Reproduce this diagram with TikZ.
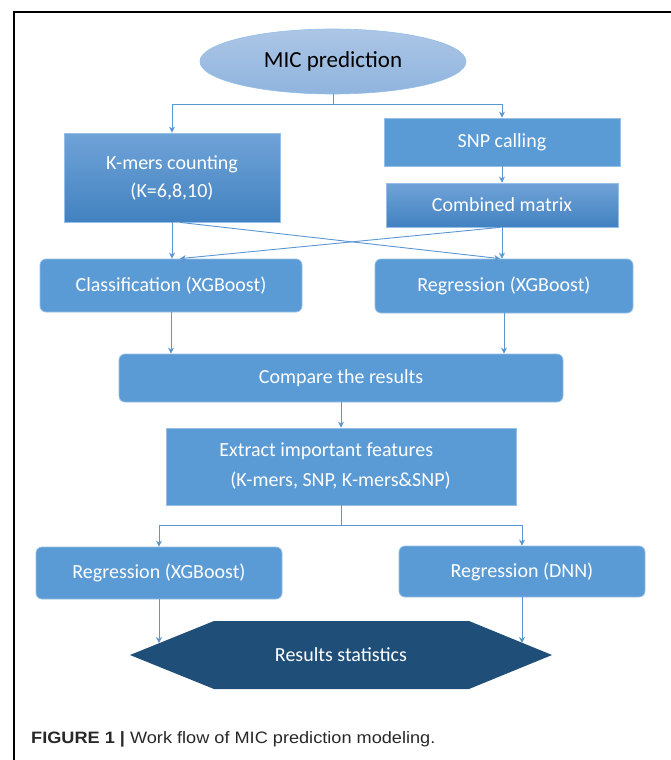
\documentclass[tikz,border=0pt]{standalone}
\usepackage{fontspec}
\setmainfont{Carlito}
\newfontfamily\capfont[FakeStretch=1.1]{Liberation Sans}
\usetikzlibrary{arrows.meta,calc,shapes.geometric}
\definecolor{boxblue}{RGB}{91,155,213}
\definecolor{boxtop}{RGB}{112,163,216}
\definecolor{boxbot}{RGB}{66,130,192}
\definecolor{elltop}{RGB}{172,198,230}
\definecolor{ellbot}{RGB}{143,180,222}
\definecolor{edgeblue}{RGB}{150,190,230}
\definecolor{linkblue}{RGB}{91,150,210}
\definecolor{hexblue}{RGB}{31,78,121}
\definecolor{capgray}{RGB}{40,40,40}
\tikzset{
  base/.style={inner sep=0pt, text=white, font=\fontsize{20}{28}\selectfont, draw=edgeblue, line width=0.8pt},
  flatbox/.style={base, rectangle, fill=boxblue},
  gradbox/.style={base, rectangle, top color=boxtop, bottom color=boxbot},
  roundbox/.style={base, rectangle, rounded corners=6pt, fill=boxblue},
  link/.style={draw=linkblue, line width=0.9pt},
  arr/.style={link, -{Stealth[length=6pt,width=6pt]}}
}
\begin{document}
\begin{tikzpicture}[x=1pt,y=-1pt]
\useasboundingbox (0,0) rectangle (671,760);
% frame
\draw[black, line width=1.5pt] (14,760) -- (14,12) -- (671,12);
% nodes
\node[ellipse, minimum width=266pt, minimum height=65pt, inner sep=0pt,
      top color=elltop, bottom color=ellbot, draw=edgeblue, line width=0.6pt,
      font=\fontsize{23}{28}\selectfont, text=black] (mic) at (333,61.5) {MIC prediction};
\node[gradbox, minimum width=216pt, minimum height=89pt, align=center] (kmer) at (172,177.5) {K-mers counting\\(K=6,8,10)};
\node[flatbox, minimum width=236pt, minimum height=48pt] (snp) at (502,142) {SNP calling};
\node[gradbox, minimum width=232pt, minimum height=44pt] (comb) at (502,205) {Combined matrix};
\node[roundbox, minimum width=262pt, minimum height=53pt] (class) at (171,285.5) {Classification (XGBoost)};
\node[roundbox, minimum width=258pt, minimum height=54pt] (reg) at (504,286) {Regression (XGBoost)};
\node[roundbox, minimum width=444pt, minimum height=48pt] (cmp) at (341,378) {Compare the results};
\node[flatbox, minimum width=350pt, minimum height=77pt, align=left, font=\fontsize{20}{30}\selectfont] (ext) at (341,466.5) {Extract important features\\\hspace*{11pt}(K-mers, SNP, K-mers\&SNP)\hspace*{12pt}};
\node[roundbox, minimum width=246pt, minimum height=52pt] (regx) at (159,573) {Regression (XGBoost)};
\node[roundbox, minimum width=246pt, minimum height=51pt] (dnn) at (522,571.5) {Regression (DNN)};
% hexagon
\fill[hexblue] (130,655) -- (214,621) -- (469,621) -- (552,655) -- (469,689) -- (214,689) -- cycle;
\node[text=white, font=\fontsize{20}{24}\selectfont] (res) at (341,655) {Results statistics};
\coordinate (hl) at (159,643);
\coordinate (hr) at (522,643);
% caption
\node[anchor=west, inner sep=0pt, text=capgray, font=\capfont\fontsize{16.5}{19}\selectfont] (cap) at (31,739) {\textbf{FIGURE 1 |} Work flow of MIC prediction modeling.};
% connectors
\draw[link] (mic.south) -- (333,104) coordinate (split1);
\draw[arr] (split1) -| (kmer.north);
\draw[arr] (split1) -| (snp.north);
\draw[arr] (snp.south) -- (comb.north);
\draw[arr] (kmer.south) -- (kmer.south |- class.north);
\draw[arr] ([xshift=8pt]kmer.south) -- ([xshift=-4pt]reg.north);
\draw[arr] ([xshift=-2pt]comb.south) -- ([xshift=9pt]class.north);
\draw[arr] (comb.south) -- (comb.south |- reg.north);
\draw[arr] (class.south) -- (class.south |- cmp.north);
\draw[arr] (reg.south) -- (reg.south |- cmp.north);
\draw[arr] (cmp.south) -- (ext.north);
\draw[link] (ext.south) -- (341,525) coordinate (split2);
\draw[arr] (split2) -| (regx.north);
\draw[arr] (split2) -| (dnn.north);
\draw[arr] (regx.south) -- (hl);
\draw[arr] (dnn.south) -- (hr);
\end{tikzpicture}
\end{document}
